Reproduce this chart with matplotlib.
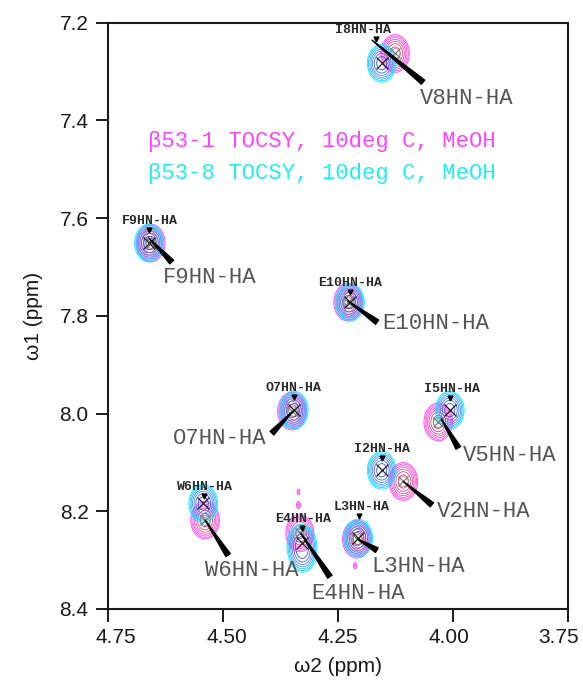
import numpy as np
import matplotlib
matplotlib.use('Agg')
import matplotlib.pyplot as plt
from matplotlib.transforms import offset_copy, ScaledTranslation

# ---------------- data (ppm) ----------------
# beta53-1 spectrum (magenta) assigned peaks
b1_labels = ['V8', 'F9', 'E10', 'O7', 'V5', 'V2', 'W6', 'E4', 'L3']
b1_w2 = [4.126, 4.657, 4.228, 4.350, 4.032, 4.108, 4.539, 4.333, 4.209]
b1_w1 = [7.263, 7.651, 7.772, 7.995, 8.017, 8.139, 8.218, 8.245, 8.257]
b1_amp = [1.0, 1.0, 1.0, 1.0, 1.0, 1.0, 1.0, 0.9, 1.0]
# small unassigned magenta spots
b1x_w2 = [4.336, 4.336, 4.213]
b1x_w1 = [8.160, 8.187, 8.312]
b1x_amp = [0.15, 0.2, 0.15]

# beta53-8 spectrum (cyan) assigned peaks
b8_labels = ['I8', 'F9', 'E10', 'O7', 'I5', 'I2', 'W6', 'E4', 'L3']
b8_w2 = [4.155, 4.661, 4.224, 4.346, 4.007, 4.155, 4.543, 4.329, 4.206]
b8_w1 = [7.283, 7.651, 7.772, 7.993, 7.993, 8.116, 8.184, 8.265, 8.255]
b8_amp = [1.0, 1.0, 1.0, 1.0, 1.0, 1.0, 1.0, 0.9, 1.0]
# shoulder of E4 in the cyan spectrum
b8x_w2 = [4.327]
b8x_w1 = [8.290]
b8x_amp = [0.6]

x_ticks = [4.75, 4.50, 4.25, 4.00, 3.75]
y_ticks = [7.2, 7.4, 7.6, 7.8, 8.0, 8.2, 8.4]
legend_lines = ['\u03b253-1 TOCSY, 10deg C, MeOH', '\u03b253-8 TOCSY, 10deg C, MeOH']

# ---------------- layout ----------------
SX, SY = 0.0145, 0.018          # line widths of the main peaks
SPX, SPY = 0.0035, 0.006        # line widths of the tiny spots
xlabel_shift = [8, 3.5, 0, -4, -9]   # pixels, tick labels drawn slightly inward
# big label offsets (pixels) relative to beta53-1 peaks: text dx, dy, ha
big_off = [(25, -44.7, 'left'), (12, -34, 'left'), (33.7, -21.3, 'left'),
           (-25.3, -27.3, 'right'), (24.7, -33.3, 'left'), (33.4, -30, 'left'),
           (0, -50, 'left'), (11.7, -60, 'left'), (14.7, -27.7, 'left')]
# wedge: thin end offset, wide end offset (pixels, y up) relative to beta53-1 peak
wedge_off = [((-23, 13.3), (28, -28.7)), ((-2, 5), (21, -19)), ((0, 1), (29, -20)),
             ((1, 0), (-20, -22)), ((3, 3), (20, -26)), ((0, 0), (28.5, -23.3)),
             ((0, 0), (23, -35)), ((1, 0), (30, -43.4)), ((1, 0), (20, -11))]
# small label offsets relative to beta53-8 peaks
small_off = [(-18.7, 33.3), (1, 22), (0, 18.7), (0, 21.7), (2, 21), (0, 21),
             (2, 16.6), (1, 24), (3, 31)]

W, H, DPI = 583, 680, 100
fig = plt.figure(figsize=(W / DPI, H / DPI), dpi=DPI)
ax = fig.add_axes([108 / W, 1 - 609 / H, 460 / W, (609 - 22.7) / H])

mono = ['Liberation Mono', 'DejaVu Sans Mono']
sans = ['Liberation Sans', 'DejaVu Sans']

gx = np.linspace(3.75, 4.75, 800)
gy = np.linspace(7.2, 8.4, 1000)
GX, GY = np.meshgrid(gx, gy)


def spectrum(xs, ys, amps, sx, sy):
    Z = np.zeros_like(GX)
    for x0, y0, a in zip(xs, ys, amps):
        Z += a * np.exp(-((GX - x0) ** 2 / (2 * sx ** 2) + (GY - y0) ** 2 / (2 * sy ** 2)))
    return Z


Z1 = spectrum(b1_w2, b1_w1, b1_amp, SX, SY) + spectrum(b1x_w2, b1x_w1, b1x_amp, SPX, SPY)
Z8 = spectrum(b8_w2 + b8x_w2, b8_w1 + b8x_w1, b8_amp + b8x_amp, SX, SY)
levels = [0.1 * 1.4 ** k for k in range(7)]
mag_cols = ['#ff40ff', '#ff50f0', '#ff5ad8', '#f050c0', '#e848a0', '#e04488', '#d03a70']
cyan_cols = ['#00f0ff', '#18d0ff', '#38b0ff', '#4898ff', '#4c80ff', '#4468f0', '#3450d8']
ax.contour(GX, GY, Z1, levels=levels, colors=mag_cols, linewidths=0.6)
ax.contour(GX, GY, Z8, levels=levels, colors=cyan_cols, linewidths=0.6)

# peak markers
ax.plot(b1_w2, b1_w1, 'x', color='#707070', ms=7, mew=0.8, ls='none', zorder=5)
ax.plot(b1_w2, b1_w1, 'o', mfc='none', mec='#909090', ms=7, mew=0.6, ls='none', zorder=5)
ax.plot(b8_w2, b8_w1, 'x', color='#202020', ms=9, mew=0.9, ls='none', zorder=5)

# big labels with wedges (beta53-1)
for lab, x0, y0, (dx, dy, ha), (thin, wide) in zip(b1_labels, b1_w2, b1_w1, big_off, wedge_off):
    tr = offset_copy(ax.transData, fig=fig, x=thin[0], y=thin[1], units='dots')
    ax.annotate('', xy=(x0, y0), xycoords=tr,
                xytext=(wide[0] - thin[0], wide[1] - thin[1]), textcoords='offset pixels',
                arrowprops=dict(arrowstyle='wedge,tail_width=0.38,shrink_factor=0.5',
                                color='black', shrinkA=0, shrinkB=0), zorder=6)
    ax.annotate(lab + 'HN-HA', xy=(x0, y0), xytext=(dx, dy), textcoords='offset pixels',
                ha=ha, va='center', fontsize=16, family=mono, color='#555555', zorder=7)

# small labels (beta53-8)
for lab, x0, y0, (dx, dy) in zip(b8_labels, b8_w2, b8_w1, small_off):
    ax.annotate(lab + 'HN-HA', xy=(x0, y0), xytext=(dx, dy), textcoords='offset pixels',
                ha='center', va='center', fontsize=9.5, family=mono, fontweight='bold',
                color='#2a2a2a', zorder=7)
    trm = offset_copy(ax.transData, fig=fig, x=dx * 0.3, y=dy - 9, units='dots')
    ax.plot([x0], [y0], marker='v', color='black', ms=3.5, transform=trm, zorder=7)

# legend text
inv = ax.transAxes.inverted()
for t, yy, c in [(legend_lines[0], 142, '#ff44ff'), (legend_lines[1], 173, '#22eef0')]:
    xa, ya = inv.transform((148, H - yy))
    ax.text(xa, ya, t, transform=ax.transAxes, fontsize=16, family=mono, color=c,
            va='center', ha='left')

ax.set_xlim(4.75, 3.75)
ax.set_ylim(8.4, 7.2)
ax.set_xticks(x_ticks)
ax.set_xticklabels(['%.2f' % v for v in x_ticks])
ax.set_yticks(y_ticks)
ax.set_yticklabels(['%.1f' % v for v in y_ticks])
for s in ax.spines.values():
    s.set_linewidth(1.5)
    s.set_color('#1a1a1a')
ax.tick_params(direction='out', length=9, width=1.4, color='#1a1a1a', labelsize=15,
               pad=5, labelcolor='#1a1a1a')
for lbl in ax.get_xticklabels() + ax.get_yticklabels():
    lbl.set_family(sans)
for lbl, sh in zip(ax.get_xticklabels(), xlabel_shift):
    lbl.set_transform(lbl.get_transform() + ScaledTranslation(sh / DPI, 0, fig.dpi_scale_trans))
ax.set_xlabel('\u03c92 (ppm)', fontsize=15, family=sans, color='#1a1a1a', labelpad=7)
ax.set_ylabel('\u03c91 (ppm)', fontsize=15, family=sans, color='#1a1a1a', labelpad=12)

fig.savefig('out.png', dpi=DPI)
